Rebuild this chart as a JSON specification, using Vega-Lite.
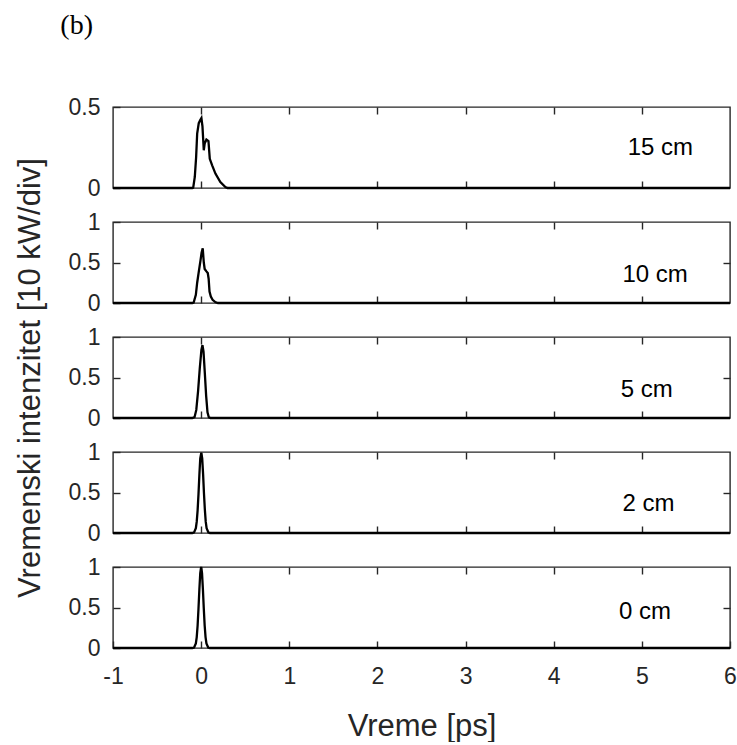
{
  "$schema": "https://vega.github.io/schema/vega-lite/v6.json",
  "padding": {"left": 13, "top": 12, "right": 5, "bottom": 0},
  "background": "white",
  "title": {"text": "(b)", "anchor": "start", "frame": "bounds", "font": "Liberation Serif", "fontSize": 28, "fontWeight": "normal", "color": "black", "dx": 47, "offset": 55},
  "config": {
    "view": {"stroke": "#262626", "strokeWidth": 1.4},
    "axis": {"grid": false, "domain": false, "tickColor": "#262626", "tickWidth": 1.4, "tickSize": -7, "labelFont": "Liberation Sans", "labelFontSize": 23, "labelColor": "#262626", "labelFlush": false, "labelOverlap": false, "labelExpr": "'' + datum.value", "titleFont": "Liberation Sans", "titleFontWeight": "normal", "titleColor": "#262626", "titleFontSize": 31},
    "text": {"font": "Liberation Sans", "fontSize": 24, "color": "#000000"}
  },
  "bounds": "flush",
  "spacing": 34,
  "datasets": {
    "pulse": [
      {"d": "15 cm", "t": -1, "v": 0},
      {"d": "15 cm", "t": -0.1, "v": 0},
      {"d": "15 cm", "t": -0.09, "v": 0.002},
      {"d": "15 cm", "t": -0.072, "v": 0.068},
      {"d": "15 cm", "t": -0.057, "v": 0.19},
      {"d": "15 cm", "t": -0.045, "v": 0.336},
      {"d": "15 cm", "t": -0.027, "v": 0.4},
      {"d": "15 cm", "t": -0.01, "v": 0.42},
      {"d": "15 cm", "t": 0.003, "v": 0.432},
      {"d": "15 cm", "t": 0.015, "v": 0.38},
      {"d": "15 cm", "t": 0.03, "v": 0.233},
      {"d": "15 cm", "t": 0.04, "v": 0.274},
      {"d": "15 cm", "t": 0.06, "v": 0.299},
      {"d": "15 cm", "t": 0.083, "v": 0.29},
      {"d": "15 cm", "t": 0.098, "v": 0.18},
      {"d": "15 cm", "t": 0.125, "v": 0.14},
      {"d": "15 cm", "t": 0.162, "v": 0.089},
      {"d": "15 cm", "t": 0.218, "v": 0.037},
      {"d": "15 cm", "t": 0.275, "v": 0.006},
      {"d": "15 cm", "t": 0.3, "v": 0},
      {"d": "15 cm", "t": 6, "v": 0},
      {"d": "10 cm", "t": -1, "v": 0},
      {"d": "10 cm", "t": -0.1, "v": 0},
      {"d": "10 cm", "t": -0.085, "v": 0.005},
      {"d": "10 cm", "t": -0.06, "v": 0.1},
      {"d": "10 cm", "t": -0.045, "v": 0.25},
      {"d": "10 cm", "t": -0.025, "v": 0.4},
      {"d": "10 cm", "t": -0.008, "v": 0.52},
      {"d": "10 cm", "t": 0.005, "v": 0.62},
      {"d": "10 cm", "t": 0.018, "v": 0.675},
      {"d": "10 cm", "t": 0.03, "v": 0.5},
      {"d": "10 cm", "t": 0.04, "v": 0.42},
      {"d": "10 cm", "t": 0.06, "v": 0.39},
      {"d": "10 cm", "t": 0.075, "v": 0.37},
      {"d": "10 cm", "t": 0.085, "v": 0.3},
      {"d": "10 cm", "t": 0.095, "v": 0.14},
      {"d": "10 cm", "t": 0.11, "v": 0.08},
      {"d": "10 cm", "t": 0.13, "v": 0.04},
      {"d": "10 cm", "t": 0.16, "v": 0.012},
      {"d": "10 cm", "t": 0.19, "v": 0},
      {"d": "10 cm", "t": 6, "v": 0},
      {"d": "5 cm", "t": -1, "v": 0},
      {"d": "5 cm", "t": -0.1, "v": 0},
      {"d": "5 cm", "t": -0.075, "v": 0.01},
      {"d": "5 cm", "t": -0.055, "v": 0.1},
      {"d": "5 cm", "t": -0.035, "v": 0.33},
      {"d": "5 cm", "t": -0.015, "v": 0.62},
      {"d": "5 cm", "t": 0.003, "v": 0.84},
      {"d": "5 cm", "t": 0.015, "v": 0.9},
      {"d": "5 cm", "t": 0.027, "v": 0.82},
      {"d": "5 cm", "t": 0.042, "v": 0.55},
      {"d": "5 cm", "t": 0.057, "v": 0.27},
      {"d": "5 cm", "t": 0.072, "v": 0.07},
      {"d": "5 cm", "t": 0.087, "v": 0.01},
      {"d": "5 cm", "t": 0.105, "v": 0},
      {"d": "5 cm", "t": 6, "v": 0},
      {"d": "2 cm", "t": -1, "v": 0},
      {"d": "2 cm", "t": -0.1, "v": 0},
      {"d": "2 cm", "t": -0.08, "v": 0.007},
      {"d": "2 cm", "t": -0.06, "v": 0.06},
      {"d": "2 cm", "t": -0.05, "v": 0.14},
      {"d": "2 cm", "t": -0.04, "v": 0.28},
      {"d": "2 cm", "t": -0.03, "v": 0.48},
      {"d": "2 cm", "t": -0.02, "v": 0.72},
      {"d": "2 cm", "t": -0.01, "v": 0.92},
      {"d": "2 cm", "t": 0.002, "v": 0.99},
      {"d": "2 cm", "t": 0.012, "v": 0.92},
      {"d": "2 cm", "t": 0.022, "v": 0.73},
      {"d": "2 cm", "t": 0.032, "v": 0.49},
      {"d": "2 cm", "t": 0.042, "v": 0.29},
      {"d": "2 cm", "t": 0.052, "v": 0.14},
      {"d": "2 cm", "t": 0.062, "v": 0.06},
      {"d": "2 cm", "t": 0.082, "v": 0.007},
      {"d": "2 cm", "t": 0.1, "v": 0},
      {"d": "2 cm", "t": 6, "v": 0},
      {"d": "0 cm", "t": -1, "v": 0},
      {"d": "0 cm", "t": -0.1, "v": 0},
      {"d": "0 cm", "t": -0.08, "v": 0.006},
      {"d": "0 cm", "t": -0.06, "v": 0.056},
      {"d": "0 cm", "t": -0.05, "v": 0.135},
      {"d": "0 cm", "t": -0.04, "v": 0.278},
      {"d": "0 cm", "t": -0.03, "v": 0.487},
      {"d": "0 cm", "t": -0.02, "v": 0.726},
      {"d": "0 cm", "t": -0.01, "v": 0.923},
      {"d": "0 cm", "t": 0, "v": 1},
      {"d": "0 cm", "t": 0.01, "v": 0.923},
      {"d": "0 cm", "t": 0.02, "v": 0.726},
      {"d": "0 cm", "t": 0.03, "v": 0.487},
      {"d": "0 cm", "t": 0.04, "v": 0.278},
      {"d": "0 cm", "t": 0.05, "v": 0.135},
      {"d": "0 cm", "t": 0.06, "v": 0.056},
      {"d": "0 cm", "t": 0.08, "v": 0.006},
      {"d": "0 cm", "t": 0.1, "v": 0},
      {"d": "0 cm", "t": 6, "v": 0}
    ],
    "labels": [
      {"d": "15 cm", "x": 4.84, "y": 0.247},
      {"d": "10 cm", "x": 4.78, "y": 0.346},
      {"d": "5 cm", "x": 4.76, "y": 0.34},
      {"d": "2 cm", "x": 4.78, "y": 0.36},
      {"d": "0 cm", "x": 4.74, "y": 0.45}
    ]
  },
  "vconcat": [
    {
      "width": 617, "height": 81,
      "layer": [
        {"data": {"name": "pulse"}, "transform": [{"filter": "datum.d == '15 cm'"}],
         "mark": {"type": "line", "color": "black", "strokeWidth": 2.3},
         "encoding": {
           "x": {"field": "t", "type": "quantitative", "scale": {"domain": [-1, 6]}, "axis": {"orient": "bottom", "values": [0, 1, 2, 3, 4, 5], "labels": false, "title": null}},
           "y": {"field": "v", "type": "quantitative", "scale": {"domain": [0, 0.5]}, "axis": {"orient": "left", "values": [0, 0.5], "labelPadding": 20, "title": null}}}},
        {"data": {"name": "labels"}, "transform": [{"filter": "datum.d == '15 cm'"}],
         "mark": {"type": "text", "align": "left", "baseline": "middle"},
         "encoding": {
           "x": {"field": "x", "type": "quantitative", "scale": {"domain": [-1, 6]}, "axis": {"orient": "top", "values": [0, 1, 2, 3, 4, 5], "labels": false, "title": null}},
           "y": {"field": "y", "type": "quantitative", "scale": {"domain": [0, 0.5]}, "axis": {"orient": "right", "values": [0.25], "ticks": false, "labels": false, "title": null}},
           "text": {"field": "d"}}}
      ],
      "resolve": {"axis": {"x": "independent", "y": "independent"}}
    },
    {
      "width": 617, "height": 81,
      "layer": [
        {"data": {"name": "pulse"}, "transform": [{"filter": "datum.d == '10 cm'"}],
         "mark": {"type": "line", "color": "black", "strokeWidth": 2.3},
         "encoding": {
           "x": {"field": "t", "type": "quantitative", "scale": {"domain": [-1, 6]}, "axis": {"orient": "bottom", "values": [0, 1, 2, 3, 4, 5], "labels": false, "title": null}},
           "y": {"field": "v", "type": "quantitative", "scale": {"domain": [0, 1]}, "axis": {"orient": "left", "values": [0, 0.5, 1], "labelPadding": 20, "title": null}}}},
        {"data": {"name": "labels"}, "transform": [{"filter": "datum.d == '10 cm'"}],
         "mark": {"type": "text", "align": "left", "baseline": "middle"},
         "encoding": {
           "x": {"field": "x", "type": "quantitative", "scale": {"domain": [-1, 6]}, "axis": {"orient": "top", "values": [0, 1, 2, 3, 4, 5], "labels": false, "title": null}},
           "y": {"field": "y", "type": "quantitative", "scale": {"domain": [0, 1]}, "axis": {"orient": "right", "values": [0.5], "labels": false, "title": null}},
           "text": {"field": "d"}}}
      ],
      "resolve": {"axis": {"x": "independent", "y": "independent"}}
    },
    {
      "width": 617, "height": 81,
      "layer": [
        {"data": {"name": "pulse"}, "transform": [{"filter": "datum.d == '5 cm'"}],
         "mark": {"type": "line", "color": "black", "strokeWidth": 2.3},
         "encoding": {
           "x": {"field": "t", "type": "quantitative", "scale": {"domain": [-1, 6]}, "axis": {"orient": "bottom", "values": [0, 1, 2, 3, 4, 5], "labels": false, "title": null}},
           "y": {"field": "v", "type": "quantitative", "scale": {"domain": [0, 1]}, "axis": {"orient": "left", "values": [0, 0.5, 1], "labelPadding": 20, "title": "Vremenski intenzitet [10 kW/div]", "titlePadding": 22}}}},
        {"data": {"name": "labels"}, "transform": [{"filter": "datum.d == '5 cm'"}],
         "mark": {"type": "text", "align": "left", "baseline": "middle"},
         "encoding": {
           "x": {"field": "x", "type": "quantitative", "scale": {"domain": [-1, 6]}, "axis": {"orient": "top", "values": [0, 1, 2, 3, 4, 5], "labels": false, "title": null}},
           "y": {"field": "y", "type": "quantitative", "scale": {"domain": [0, 1]}, "axis": {"orient": "right", "values": [0.5], "labels": false, "title": null}},
           "text": {"field": "d"}}}
      ],
      "resolve": {"axis": {"x": "independent", "y": "independent"}}
    },
    {
      "width": 617, "height": 81,
      "layer": [
        {"data": {"name": "pulse"}, "transform": [{"filter": "datum.d == '2 cm'"}],
         "mark": {"type": "line", "color": "black", "strokeWidth": 2.3},
         "encoding": {
           "x": {"field": "t", "type": "quantitative", "scale": {"domain": [-1, 6]}, "axis": {"orient": "bottom", "values": [0, 1, 2, 3, 4, 5], "labels": false, "title": null}},
           "y": {"field": "v", "type": "quantitative", "scale": {"domain": [0, 1]}, "axis": {"orient": "left", "values": [0, 0.5, 1], "labelPadding": 20, "title": null}}}},
        {"data": {"name": "labels"}, "transform": [{"filter": "datum.d == '2 cm'"}],
         "mark": {"type": "text", "align": "left", "baseline": "middle"},
         "encoding": {
           "x": {"field": "x", "type": "quantitative", "scale": {"domain": [-1, 6]}, "axis": {"orient": "top", "values": [0, 1, 2, 3, 4, 5], "labels": false, "title": null}},
           "y": {"field": "y", "type": "quantitative", "scale": {"domain": [0, 1]}, "axis": {"orient": "right", "values": [0.5], "labels": false, "title": null}},
           "text": {"field": "d"}}}
      ],
      "resolve": {"axis": {"x": "independent", "y": "independent"}}
    },
    {
      "width": 617, "height": 81,
      "layer": [
        {"data": {"name": "pulse"}, "transform": [{"filter": "datum.d == '0 cm'"}],
         "mark": {"type": "line", "color": "black", "strokeWidth": 2.3},
         "encoding": {
           "x": {"field": "t", "type": "quantitative", "scale": {"domain": [-1, 6]}, "axis": {"orient": "bottom", "values": [-1, 0, 1, 2, 3, 4, 5, 6], "labelPadding": 24, "title": "Vreme [ps]", "titlePadding": 23}},
           "y": {"field": "v", "type": "quantitative", "scale": {"domain": [0, 1]}, "axis": {"orient": "left", "values": [0, 0.5, 1], "labelPadding": 20, "title": null}}}},
        {"data": {"name": "labels"}, "transform": [{"filter": "datum.d == '0 cm'"}],
         "mark": {"type": "text", "align": "left", "baseline": "middle"},
         "encoding": {
           "x": {"field": "x", "type": "quantitative", "scale": {"domain": [-1, 6]}, "axis": {"orient": "top", "values": [0, 1, 2, 3, 4, 5], "labels": false, "title": null}},
           "y": {"field": "y", "type": "quantitative", "scale": {"domain": [0, 1]}, "axis": {"orient": "right", "values": [0.5], "labels": false, "title": null}},
           "text": {"field": "d"}}}
      ],
      "resolve": {"axis": {"x": "independent", "y": "independent"}}
    }
  ]
}
